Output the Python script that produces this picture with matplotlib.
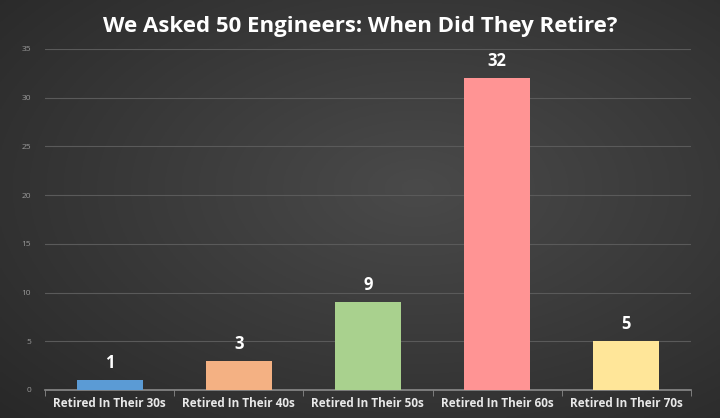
import numpy as np
import matplotlib.pyplot as plt

categories = ['Retired In Their 30s', 'Retired In Their 40s', 'Retired In Their 50s',
              'Retired In Their 60s', 'Retired In Their 70s']
counts = [1, 3, 9, 32, 5]
colors = ['#5b9bd5', '#f4b183', '#a9d18e', '#ff9494', '#ffe699']
yticks = [0, 5, 10, 15, 20, 25, 30, 35]

plt.rcParams['font.family'] = ['Open Sans', 'DejaVu Sans']

fig = plt.figure(figsize=(7.2, 4.18), dpi=100)

# dark radial background
bg = fig.add_axes([0, 0, 1, 1])
yy, xx = np.mgrid[0:1:200j, 0:1:340j]
d = np.sqrt(((xx - 0.58) / 0.9) ** 2 + ((yy - 0.45) / 0.9) ** 2)
shade = np.clip(0.29 - 0.15 * d, 0.15, 0.29)
bg.imshow(np.dstack([shade] * 3), aspect='auto', extent=[0, 1, 0, 1])
bg.axis('off')

ax = fig.add_axes([0.0625, 0.067, 0.897, 0.816])
ax.patch.set_alpha(0)
x = np.arange(len(categories))
bars = ax.bar(x, counts, width=0.51, color=colors, zorder=3)
for b, v in zip(bars, counts):
    ax.text(b.get_x() + b.get_width() / 2, v + 0.8, str(v), ha='center', va='bottom',
            color='white', fontsize=12, fontweight='bold')

ax.set_xlim(-0.5, len(categories) - 0.5)
ax.set_ylim(0, 35)
ax.set_yticks(yticks)
ax.set_yticklabels([str(t) for t in yticks], color='#9a9a9a', fontsize=6)
ax.set_xticks(x)
ax.set_xticklabels(categories, color='#e8e8e8', fontsize=8.5, fontweight='bold')
ax.tick_params(axis='x', length=0, pad=5)
ax.tick_params(axis='y', length=0, pad=10)
ax.set_xticks(np.arange(-0.5, len(categories)), minor=True)
ax.tick_params(axis='x', which='minor', length=4, color='#8a8a8a')
ax.grid(axis='y', color='#5a5a5a', linewidth=0.8, zorder=0)
for s in ['top', 'right', 'left']:
    ax.spines[s].set_visible(False)
ax.spines['bottom'].set_color('#8a8a8a')
ax.spines['bottom'].set_linewidth(1.2)

fig.text(0.5, 0.937, 'We Asked 50 Engineers: When Did They Retire?', ha='center', va='center',
         color='white', fontsize=16, fontweight='bold')

fig.savefig('out.png', dpi=100)
